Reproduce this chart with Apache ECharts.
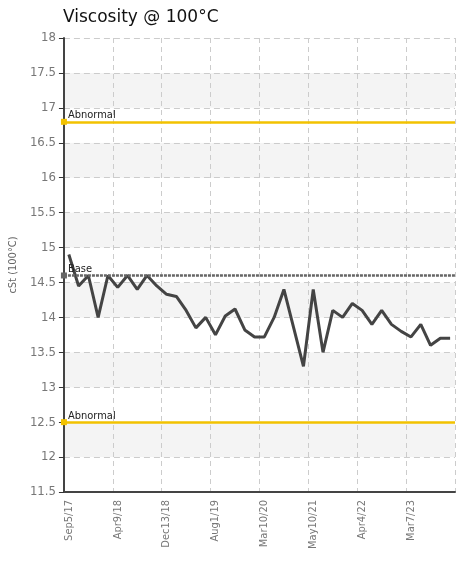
<!DOCTYPE html>
<html><head><meta charset="utf-8">
<script src="https://cdn.jsdelivr.net/npm/echarts@6/dist/echarts.min.js"></script>
<style>html,body{margin:0;padding:0}#charts{width:457px;height:564px}</style>
</head><body><div id="charts"></div>
<script>
var dates = ['Sep5/17','','','','','Apr9/18','','','','','Dec13/18','','','','','Aug1/19','','','','',
  'Mar10/20','','','','','May10/21','','','','','Apr4/22','','','','','Mar7/23','','','',''];
var viscosity = [14.9,14.45,14.6,14.0,14.6,14.43,14.6,14.4,14.6,14.45,14.33,14.3,14.1,13.85,14.0,13.75,14.02,14.12,13.82,13.72,
  13.72,14.0,14.4,13.85,13.3,14.4,13.5,14.1,14.0,14.2,14.1,13.9,14.1,13.9,13.8,13.72,13.9,13.6,13.7,13.7];
var abnormalHigh = 16.8, abnormalLow = 12.5, base = 14.6;

var myChart = echarts.init(document.getElementById('charts'));
var FONT = 'DejaVu Sans Condensed, DejaVu Sans, sans-serif';
function limitLine(v, name, color, type) {
    return {
        yAxis: v,
        lineStyle: {color: color, width: 2.5, type: type},
        label: {show: true, position: 'insideStartTop', formatter: name, color: '#222', fontSize: 11, distance: [4, 1],
            fontFamily: FONT}
    };
}
var option = {
    title: {text: 'Viscosity @ 100°C', left: 58, top: 4, textStyle: {fontSize: 17, fontWeight: 'normal', color: '#111', fontFamily: 'DejaVu Sans'}},
    grid: {left: 62, right: 2, top: 38, bottom: 72},
    xAxis: {
        type: 'category', boundaryGap: ['2%', '2%'], data: dates,
        axisLine: {lineStyle: {color: '#444', width: 2}},
        axisTick: {alignWithLabel: true, interval: 4, lineStyle: {color: '#333'}},
        axisLabel: {interval: 4, rotate: 90, color: '#777', fontSize: 11, fontFamily: FONT},
        splitLine: {show: true, interval: 4, lineStyle: {color: '#ccc', type: [5, 4]}}
    },
    yAxis: {
        type: 'value', min: 11.5, max: 18, interval: 0.5,
        name: 'cSt (100°C)', nameLocation: 'middle', nameGap: 38, nameRotate: 90,
        nameTextStyle: {color: '#666', fontSize: 11, fontFamily: FONT},
        axisLine: {show: true, lineStyle: {color: '#444', width: 2}},
        axisTick: {show: true, lineStyle: {color: '#333'}},
        axisLabel: {color: '#777', fontSize: 13, fontFamily: FONT},
        splitLine: {lineStyle: {color: '#ccc', type: [6, 4]}},
        splitArea: {show: true, areaStyle: {color: ['#ffffff', '#f4f4f4']}}
    },
    series: [{
        type: 'line', data: viscosity, symbol: 'none',
        lineStyle: {color: '#444', width: 3},
        markLine: {
            silent: true, symbol: ['rect', 'none'], symbolSize: [6, 6],
            data: [
                limitLine(abnormalHigh, 'Abnormal', '#f2c200', 'solid'),
                limitLine(base, 'Base', '#666', [3, 1]),
                limitLine(abnormalLow, 'Abnormal', '#f2c200', 'solid')
            ]
        }
    }]
};
myChart.setOption(option);
</script></body></html>
